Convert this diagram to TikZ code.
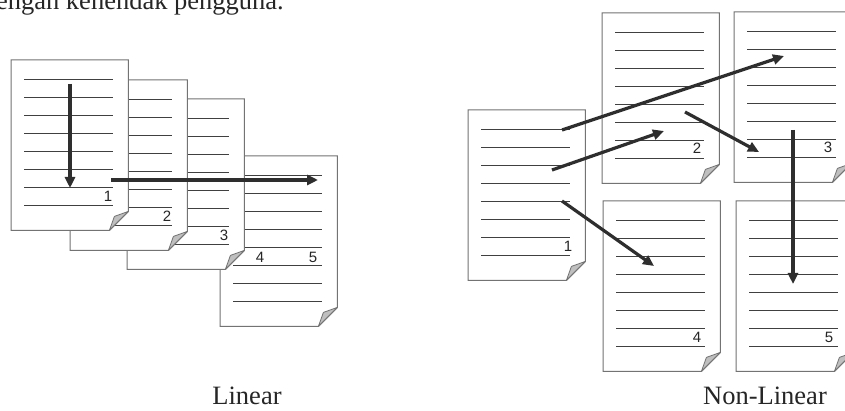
\documentclass[tikz,border=0pt]{standalone}
\usepackage{fontspec}
\setmainfont{Liberation Serif}
\newfontfamily\numfont{Liberation Sans}
\usetikzlibrary{arrows.meta}
\tikzset{
  pagenode/.style={inner sep=0pt, draw=none, minimum width=117pt, minimum height=170pt, anchor=north west},
  pageedge/.style={fill=white, draw=black!55, line width=1pt, line join=miter},
  pagefold/.style={fill=black!25, draw=black!55, line width=0.8pt, line join=round},
  textline/.style={draw=black!75, line width=1.4pt},
  pagenum/.style={font=\numfont\fontsize{15}{15}\selectfont, inner sep=0pt, anchor=base, text=black!85},
  flowarrow/.style={draw=black!82, line width=3.2pt, -{Triangle[length=11pt,width=10pt]}},
  caption/.style={font=\fontsize{26.5}{30}\selectfont, anchor=base, inner sep=0pt, text=black!85},
}
\newcommand\docpage[3]{%
  \node[pagenode] (#1) at (#2,#3) {};
  \filldraw[pageedge] (#1.north west) -- (#1.north east) -- ([yshift=19pt]#1.south east)
     -- ([xshift=-19pt]#1.south east) -- (#1.south west) -- cycle;
  \filldraw[pagefold] ([yshift=19pt]#1.south east) -- ([xshift=-19pt]#1.south east)
     -- ([xshift=-14pt,yshift=14pt]#1.south east) -- cycle;
  \foreach \k in {0,...,7}
    \draw[textline] ([xshift=13pt,yshift={-19.5pt-\k*18pt}]#1.north west) -- ++(89,0);
}
\begin{document}
\begin{tikzpicture}[x=1pt,y=-1pt]
\useasboundingbox (0,0) rectangle (845,411);
\clip (0,0) rectangle (845,411);
\fill[white] (0,0) rectangle (845,411);

% top text (cut off by the page edge, as in the reference)
\node[caption, anchor=base east] (topline) at (284,10) {dengan kehendak pengguna.};

% ---------- Linear ----------
\docpage{L4}{220}{156}
\node[pagenum] (L4a) at ([xshift=40pt,yshift=-107pt]L4.north west) {4};
\node[pagenum] (L4b) at ([xshift=93pt,yshift=-107pt]L4.north west) {5};
\docpage{L3}{127}{99}
\node[pagenum] (L3n) at ([xshift=97pt,yshift=-142pt]L3.north west) {3};
\docpage{L2}{70}{80}
\node[pagenum] (L2n) at ([xshift=97pt,yshift=-142pt]L2.north west) {2};
\docpage{L1}{11}{60}
\node[pagenum] (L1n) at ([xshift=97pt,yshift=-142pt]L1.north west) {1};

\coordinate (lv1) at (70,84);
\coordinate (lv2) at (70,188);
\coordinate (lh1) at (111,180);
\coordinate (lh2) at (318,180);
\draw[flowarrow] (lv1) -- (lv2);
\draw[flowarrow] (lh1) -- (lh2);

\node[caption] (capL) at (247,404) {Linear};

% ---------- Non-Linear ----------
\docpage{N1}{468}{110}
\node[pagenum] (N1n) at ([xshift=100pt,yshift=-142pt]N1.north west) {1};
\docpage{N2}{602}{13}
\node[pagenum] (N2n) at ([xshift=95pt,yshift=-141pt]N2.north west) {2};
\docpage{N3}{734}{12}
\node[pagenum] (N3n) at ([xshift=94pt,yshift=-141pt]N3.north west) {3};
\docpage{N4}{603}{201}
\node[pagenum] (N4n) at ([xshift=94pt,yshift=-141pt]N4.north west) {4};
\docpage{N5}{736}{201}
\node[pagenum] (N5n) at ([xshift=93pt,yshift=-141pt]N5.north west) {5};

\coordinate (a1s) at (562,130);
\coordinate (a1e) at (784,56);
\coordinate (a2s) at (552,170);
\coordinate (a2e) at (664,131);
\coordinate (a3s) at (685,112);
\coordinate (a3e) at (759,152);
\coordinate (a4s) at (562,201);
\coordinate (a4e) at (654,266);
\coordinate (a5s) at (793,130);
\coordinate (a5e) at (793,284);
\draw[flowarrow] (a1s) -- (a1e);
\draw[flowarrow] (a2s) -- (a2e);
\draw[flowarrow] (a3s) -- (a3e);
\draw[flowarrow] (a4s) -- (a4e);
\draw[flowarrow] (a5s) -- (a5e);

\node[caption] (capN) at (765,404) {Non-Linear};
\end{tikzpicture}
\end{document}
